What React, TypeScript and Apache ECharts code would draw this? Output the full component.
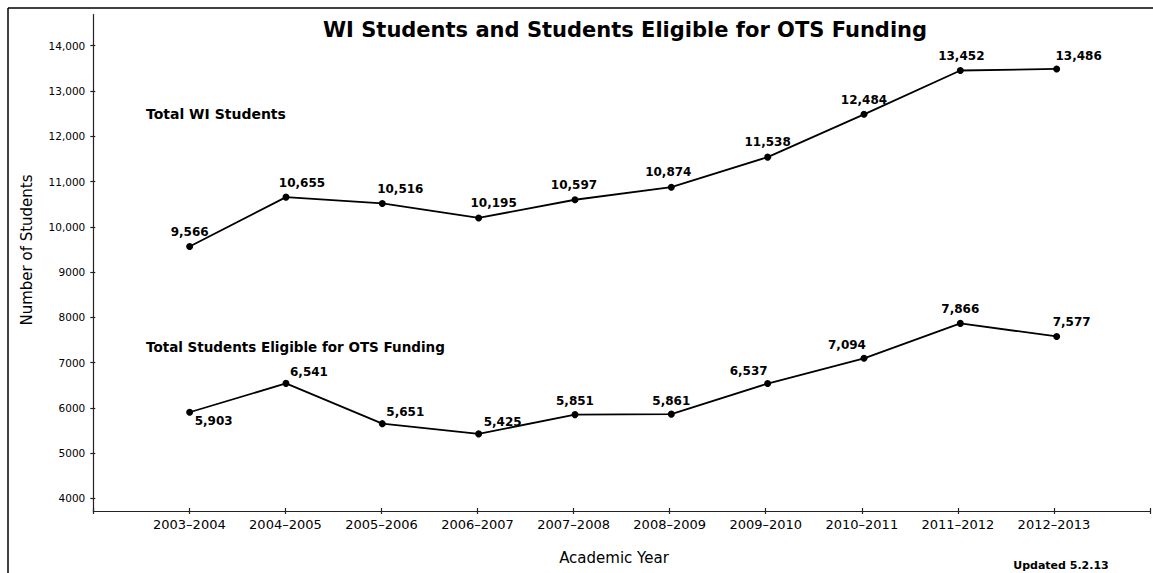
import React, { useEffect, useRef } from "react";
import * as echarts from "echarts";

const categories = [
  "2003–2004", "2004–2005", "2005–2006", "2006–2007", "2007–2008",
  "2008–2009", "2009–2010", "2010–2011", "2011–2012", "2012–2013",
];
const totalWI = [9566, 10655, 10516, 10195, 10597, 10874, 11538, 12484, 13452, 13486];
const totalOTS = [5903, 6541, 5651, 5425, 5851, 5861, 6537, 7094, 7866, 7577];

// label offsets (label centre relative to point), layout only
const wiLabelOffsets = [[0, -14], [16, -14], [18, -14], [15, -15], [-1, -15], [-3, -15], [0, -15], [0, -14], [1, -15], [22, -13]];
const otsLabelOffsets = [[24, 9], [23, -11], [23, -12], [24, -12], [0, -14], [0, -13], [-19, -13], [-17, -13], [0, -14], [15, -14]];

const FONT = "DejaVu Sans";

const fmtNum = (v: number) => v.toLocaleString("en-US");
const fmtAxis = (v: number) => (v >= 10000 ? v.toLocaleString("en-US") : String(v));

export default function App() {
  const ref = useRef<HTMLDivElement>(null);
  useEffect(() => {
    const chart = echarts.init(ref.current!, null, { renderer: "svg" });
    const left = 93.3;
    const width = 1063.5;
    const tickStyle = { color: "#222", width: 1.2 };
    const mkSeries = (name: string, vals: number[], offs: number[][]) => ({
      type: "line",
      name,
      xAxisIndex: 0,
      yAxisIndex: 0,
      symbol: "circle",
      symbolSize: 7,
      lineStyle: { color: "#000", width: 1.8 },
      itemStyle: { color: "#000" },
      label: {
        show: true,
        position: "inside",
        fontFamily: FONT,
        fontSize: 12,
        fontWeight: "bold",
        color: "#000",
        formatter: (p: any) => fmtNum(p.value[1]),
      },
      data: vals.map((v, i) => ({ value: [i, v], label: { offset: offs[i] } })),
    });
    chart.setOption({
      animation: false,
      backgroundColor: "#fff",
      grid: [
        { left, top: 45.7, width, height: 452.7 },
        { left, top: 14.6, width, height: 496.4 },
      ],
      xAxis: [
        { gridIndex: 0, type: "value", min: -1, max: 10, show: false },
        {
          gridIndex: 1, type: "value", min: -1, max: 10, interval: 1,
          axisLine: { show: true, onZero: false, lineStyle: { color: "#222", width: 1.2 } },
          axisTick: { show: true, length: 3, lineStyle: tickStyle },
          splitLine: { show: false },
          axisLabel: {
            fontFamily: FONT, fontSize: 13, color: "#000", margin: 7,
            formatter: (v: number) => (Number.isInteger(v) && v >= 0 && v < categories.length ? categories[v] : ""),
          },
        },
        {
          gridIndex: 1, type: "value", min: -1, max: 10, interval: 1, position: "bottom",
          axisLine: { show: false, onZero: false },
          axisTick: { show: true, inside: true, length: 3, lineStyle: tickStyle },
          axisLabel: { show: false },
          splitLine: { show: false },
        },
      ],
      yAxis: [
        {
          gridIndex: 0, type: "value", min: 4000, max: 14000, interval: 1000,
          axisLine: { show: false, onZero: false },
          axisTick: { show: true, length: 3, lineStyle: tickStyle },
          splitLine: { show: false },
          axisLabel: { fontFamily: FONT, fontSize: 10.5, color: "#000", margin: 8, formatter: fmtAxis },
        },
        {
          gridIndex: 1, type: "value", min: 0, max: 1,
          axisLine: { show: true, onZero: false, lineStyle: { color: "#222", width: 1.2 } },
          axisTick: { show: false },
          axisLabel: { show: false },
          splitLine: { show: false },
        },
        {
          gridIndex: 0, type: "value", min: 4000, max: 14000, interval: 1000, position: "left",
          axisLine: { show: false, onZero: false },
          axisTick: { show: true, inside: true, length: 2, lineStyle: tickStyle },
          axisLabel: { show: false },
          splitLine: { show: false },
        },
      ],
      series: [
        mkSeries("Total WI Students", totalWI, wiLabelOffsets),
        mkSeries("Total Students Eligible for OTS Funding", totalOTS, otsLabelOffsets),
      ],
      graphic: [
        { type: "line", shape: { x1: 8, y1: 8, x2: 1153, y2: 8 }, style: { stroke: "#000", lineWidth: 1.5 } },
        { type: "line", shape: { x1: 8, y1: 8, x2: 8, y2: 573 }, style: { stroke: "#000", lineWidth: 1.5 } },
        {
          type: "text", x: 625, y: 30,
          style: { text: "WI Students and Students Eligible for OTS Funding", fontFamily: FONT, fontSize: 21, fontWeight: "bold", fill: "#000", textAlign: "center", textVerticalAlign: "middle" },
        },
        {
          type: "text", x: 146, y: 114,
          style: { text: "Total WI Students", fontFamily: FONT, fontSize: 14, fontWeight: "bold", fill: "#000", textAlign: "left", textVerticalAlign: "middle" },
        },
        {
          type: "text", x: 146, y: 347,
          style: { text: "Total Students Eligible for OTS Funding", fontFamily: FONT, fontSize: 13.5, fontWeight: "bold", fill: "#000", textAlign: "left", textVerticalAlign: "middle" },
        },
        {
          type: "text", x: 27, y: 250, rotation: Math.PI / 2,
          style: { text: "Number of Students", fontFamily: FONT, fontSize: 15, fill: "#000", textAlign: "center", textVerticalAlign: "middle" },
        },
        {
          type: "text", x: 614, y: 558,
          style: { text: "Academic Year", fontFamily: FONT, fontSize: 15, fill: "#000", textAlign: "center", textVerticalAlign: "middle" },
        },
        {
          type: "text", x: 1061, y: 565,
          style: { text: "Updated 5.2.13", fontFamily: FONT, fontSize: 11, fontWeight: "bold", fill: "#000", textAlign: "center", textVerticalAlign: "middle" },
        },
      ],
    });
    return () => chart.dispose();
  }, []);
  return (
    <div
      ref={ref}
      style={{ position: "absolute", left: 0, top: 0, width: 1153, height: 573 }}
    />
  );
}
